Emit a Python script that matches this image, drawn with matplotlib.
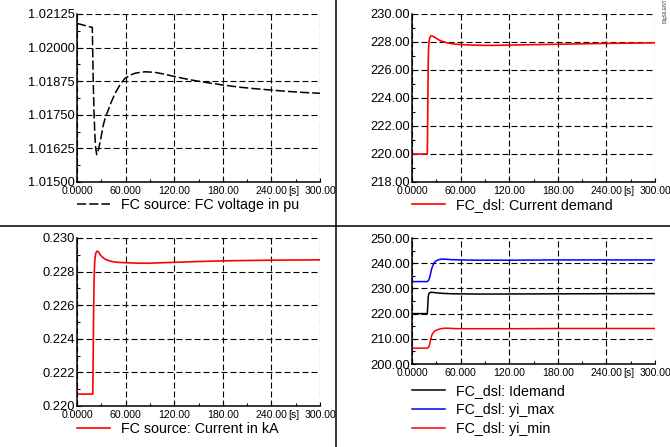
import matplotlib
matplotlib.use("Agg")
from matplotlib import pyplot as plt
from matplotlib.lines import Line2D

plt.rcParams['font.family'] = ['Liberation Sans', 'DejaVu Sans']

# time axis labels (PowerFactory style)
x_ticks = [0, 60, 120, 180, 240, 300]
x_labels = ["0.0000", "60.000", "120.00", "180.00", "240.00", "300.00"]

# FC source: FC voltage in pu
t_volt = [0, 5, 10, 15, 18.9, 20, 21, 22, 23, 24.3, 25.5, 27, 28.5, 30, 32.5, 35, 38.6,
          42, 47, 53, 59, 66, 72, 84, 96, 108, 121, 140, 160, 180, 200, 220, 240, 260,
          280, 300]
volt = [1.02090, 1.02086, 1.02082, 1.02078, 1.02075, 1.01880, 1.01760, 1.01680, 1.01628,
        1.01602, 1.01610, 1.01628, 1.01648, 1.01672, 1.01712, 1.01740, 1.01768, 1.01795,
        1.01830, 1.01861, 1.01885, 1.01898, 1.01905, 1.01910, 1.01908, 1.01901, 1.01892,
        1.01880, 1.01870, 1.01861, 1.01853, 1.01847, 1.01842, 1.01837, 1.01833, 1.01830]
volt_ticks = [1.01500, 1.01625, 1.01750, 1.01875, 1.02000, 1.02125]
volt_labels = ["1.01500", "1.01625", "1.01750", "1.01875", "1.02000", "1.02125"]

# FC_dsl: Current demand (= Idemand)
t_dem = [0, 18.9, 19.2, 19.6, 20.0, 20.5, 21.0, 22.0, 23.0, 24.3, 26, 28, 30.5, 34, 38.6,
         43, 47, 53, 59, 70, 80, 90, 100, 120, 150, 180, 210, 240, 270, 300]
demand = [220.0, 220.0, 221.5, 224.0, 226.5, 227.6, 228.0, 228.3, 228.42, 228.45, 228.4,
          228.33, 228.25, 228.12, 228.02, 227.95, 227.9, 227.85, 227.82, 227.79, 227.77,
          227.76, 227.76, 227.78, 227.81, 227.84, 227.87, 227.9, 227.92, 227.94]
dem_ticks = [218, 220, 222, 224, 226, 228, 230]
dem_labels = ["218.00", "220.00", "222.00", "224.00", "226.00", "228.00", "230.00"]

# FC source: Current in kA
t_cur = [0, 19.5, 20.0, 20.5, 21, 21.5, 22, 23, 24, 25, 26.5, 28, 30.5, 34, 38.6, 45, 51,
         59, 70, 80, 90, 100, 120, 150, 180, 210, 240, 270, 300]
cur = [0.22071, 0.22071, 0.2230, 0.2255, 0.2272, 0.2282, 0.2287, 0.22905, 0.22918, 0.22922,
       0.22918, 0.22905, 0.22890, 0.22876, 0.22866, 0.22858, 0.22855, 0.22853, 0.22851,
       0.22850, 0.22850, 0.22852, 0.22855, 0.22860, 0.22864, 0.22866, 0.22868, 0.22869,
       0.22870]
cur_ticks = [0.220, 0.222, 0.224, 0.226, 0.228, 0.230]
cur_labels = ["0.220", "0.222", "0.224", "0.226", "0.228", "0.230"]

# FC_dsl: yi_max / yi_min
t_lim = [0, 19, 20, 21, 22, 23, 24, 25, 26, 28, 30, 33, 36, 40, 45, 50, 60, 80, 120, 180,
         240, 300]
yi_max = [232.7, 232.7, 233.0, 233.6, 234.5, 236.0, 237.4, 238.5, 239.3, 240.4, 241.0,
          241.4, 241.6, 241.6, 241.5, 241.4, 241.3, 241.2, 241.2, 241.3, 241.3, 241.3]
yi_min = [206.3, 206.3, 206.5, 207.0, 208.0, 209.7, 211.0, 211.8, 212.3, 213.0, 213.4,
          213.8, 214.0, 214.2, 214.2, 214.1, 214.0, 214.0, 214.0, 214.1, 214.1, 214.1]
lim_ticks = [200, 210, 220, 230, 240, 250]
lim_labels = ["200.00", "210.00", "220.00", "230.00", "240.00", "250.00"]

W, H = 670, 447
GRID_DASH = (0, (5.4, 2.7))


def style_axes(ax, yticks, ylabels):
    ax.set_xlim(0, 300)
    ax.set_ylim(yticks[0], yticks[-1])
    ax.set_xticks(x_ticks)
    ax.set_xticklabels(x_labels)
    ax.set_xticks([30, 90, 150, 210, 270], minor=True)
    ax.set_yticks(yticks)
    ax.set_yticklabels(ylabels)
    ax.set_yticks([(a + b) / 2 for a, b in zip(yticks[:-1], yticks[1:])], minor=True)
    ax.tick_params(axis="x", which="major", direction="in", length=3, pad=3.2,
                   labelsize=7.6, color="black")
    ax.tick_params(axis="y", which="major", direction="in", length=3, pad=1.6,
                   labelsize=9.3, color="black")
    ax.tick_params(which="minor", direction="in", length=2.5, width=0.8, color="black")
    for side in ("top", "right"):
        ax.spines[side].set_visible(False)
    for side in ("left", "bottom"):
        ax.spines[side].set_linewidth(1.1)
    ax.grid(True, which="major", color="black", linestyle=GRID_DASH, linewidth=0.8)
    ax.set_axisbelow(True)
    ax.annotate("[s]", xy=(268, 0), xycoords=("data", "axes fraction"),
                xytext=(0, -6.6), textcoords="offset points", ha="center", va="center",
                fontsize=7.6)


def add_legend(ax, y):
    ax.legend(loc="center left", bbox_to_anchor=(0, y), frameon=False, fontsize=10.3,
              handlelength=2.3, handletextpad=0.75, labelspacing=0.37, borderpad=0,
              borderaxespad=0)


def axes_at(fig, left, top, right, bottom):
    return fig.add_axes([left / W, 1 - bottom / H, (right - left) / W, (bottom - top) / H])


def main():
    fig = plt.figure(figsize=(W / 100, H / 100), dpi=100)

    ax = axes_at(fig, 77, 14, 320, 182)
    ax.plot(t_volt, volt, color="black", linewidth=1.1, linestyle=(0, (6, 2)),
            label="FC source: FC voltage in pu")
    style_axes(ax, volt_ticks, volt_labels)
    add_legend(ax, -0.135)

    ax = axes_at(fig, 412, 14, 655, 182)
    ax.plot(t_dem, demand, color="red", linewidth=1.2, label="FC_dsl: Current demand")
    style_axes(ax, dem_ticks, dem_labels)
    add_legend(ax, -0.135)

    ax = axes_at(fig, 77, 238, 320, 406)
    ax.plot(t_cur, cur, color="red", linewidth=1.2, label="FC source: Current in kA")
    style_axes(ax, cur_ticks, cur_labels)
    add_legend(ax, -0.139)

    ax = axes_at(fig, 412, 238, 655, 364)
    ax.plot(t_dem, demand, color="black", linewidth=1.1, label="FC_dsl: Idemand")
    ax.plot(t_lim, yi_max, color="blue", linewidth=1.1, label="FC_dsl: yi_max")
    ax.plot(t_lim, yi_min, color="red", linewidth=1.1, label="FC_dsl: yi_min")
    style_axes(ax, lim_ticks, lim_labels)
    add_legend(ax, -0.365)

    # panel separators
    fig.add_artist(Line2D([335.5 / W, 335.5 / W], [0, 1], transform=fig.transFigure,
                          color="black", linewidth=1.1))
    fig.add_artist(Line2D([0, 1], [1 - 226 / H, 1 - 226 / H], transform=fig.transFigure,
                          color="black", linewidth=1.1))
    fig.text(665 / W, 1 - 11 / H, "DIgSILENT", rotation=90, fontsize=3.5,
             ha="center", va="center", color="#333333")

    fig.savefig("out.png", dpi=100, facecolor="white")


if __name__ == "__main__":
    main()
